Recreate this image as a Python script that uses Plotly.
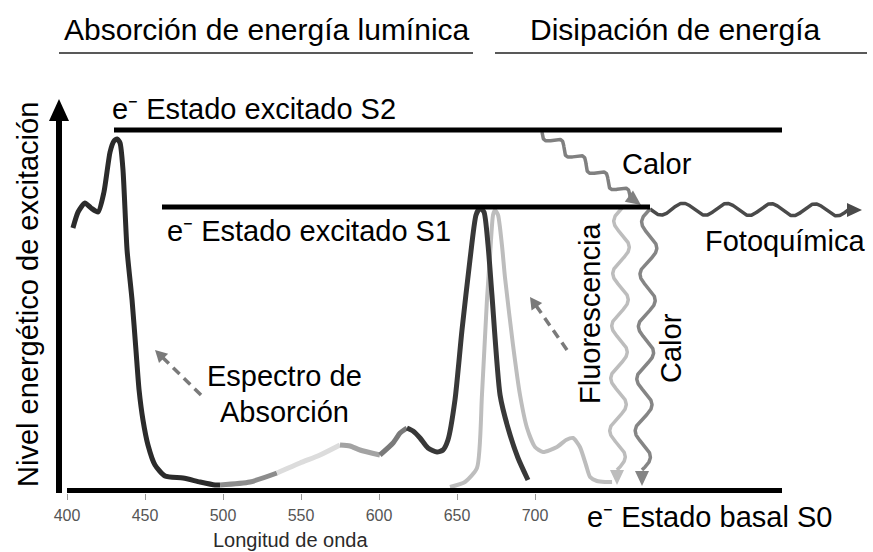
import numpy as np
import plotly.graph_objects as go

# -----------------------------
# Frame (pixel geometry of the drawing)
# -----------------------------
W, H = 873, 552
BASE = 493          # pixel row of the wavelength axis
X400 = 67           # pixel column of 400 nm
PX_PER_NM = 1.56

FONT = "Arial, Liberation Sans, sans-serif"
TXT = 29


def X(px):
    return 400 + (np.asarray(px, dtype=float) - X400) / PX_PER_NM


def Y(py):
    return BASE - np.asarray(py, dtype=float)


# -----------------------------
# Data
# -----------------------------
# absorption spectrum: wavelength (nm) and height above baseline (px units)
wl_abs = [403.8, 407.1, 411.5, 415.4, 419.9, 423.7, 427.6, 430.1, 432.1, 434.0,
          435.9, 438.5, 441.7, 444.2, 446.2, 448.7, 451.9, 456.4, 462.8, 474.4,
          485.3, 494.9, 498.1, 517.3, 534.6, 549.4, 562.2, 575.0, 581.4, 587.8,
          600.6, 609.0, 613.5, 617.9, 621.8, 626.3, 631.4, 637.2, 641.0, 644.2,
          648.7, 653.2, 658.3, 662.2, 664.7, 667.3, 669.9, 672.4, 677.6, 682.7,
          689.1, 695.5]
abs_h = [265, 281, 290, 285, 281, 301, 341, 352, 354, 350,
         323, 243, 193, 143, 103, 73, 48, 28, 17, 15,
         11, 8, 8, 11, 20, 30, 38, 48, 47, 43,
         38, 50, 60, 65, 62, 55, 45, 41, 43, 53,
         93, 163, 233, 278, 285, 281, 248, 198, 98, 65,
         35, 13]

# colour bands of the absorption trace
seg_edges = [403.8, 498.1, 534.6, 575.0, 600.6, 617.9, 695.5]
seg_colors = ["#2b2b2b", "#8c8c8c", "#dcdcdc", "#a3a3a3", "#7a7a7a", "#383838"]

# fluorescence emission spectrum
wl_em = [645.5, 655.1, 662.8, 666.0, 669.2, 671.2, 673.1, 674.4, 676.3, 678.8,
         680.8, 685.9, 690.4, 694.9, 700.0, 705.1, 714.1, 719.9, 724.4, 728.8,
         732.7, 735.3, 739.7, 744.9, 749.4]
em_h = [6, 11, 25, 98, 193, 238, 278, 283, 278, 248,
        215, 148, 98, 65, 46, 41, 46, 53, 55, 46,
        28, 16, 12, 11, 11]

tick_vals = [400, 450, 500, 550, 600, 650, 700]
tick_text = ["400", "450", "500", "550", "600", "650", "700"]


# -----------------------------
# Helpers for arrows
# -----------------------------
def head_path(tip, frm, length, half):
    tx, ty = tip
    fx, fy = frm
    d = np.hypot(tx - fx, ty - fy)
    ux, uy = (tx - fx) / d, (ty - fy) / d
    bx, by = tx - ux * length, ty - uy * length
    nx, ny = -uy * half, ux * half
    pts = [(tx, ty), (bx + nx, by + ny), (bx - nx, by - ny)]
    return "M " + " L ".join(f"{X(a):.3f},{Y(b):.3f}" for a, b in pts) + " Z"


def wave(p0, p1, amp, period, phase=0.0):
    x0, y0 = p0
    x1, y1 = p1
    L = np.hypot(x1 - x0, y1 - y0)
    n = max(round(2 * L / period) / 2, 0.5)
    period = L / n
    t = np.linspace(0, L, int(L * 2) + 2)
    ux, uy = (x1 - x0) / L, (y1 - y0) / L
    nx, ny = -uy, ux
    s = amp * np.sin(2 * np.pi * t / period + phase)
    return X(x0 + ux * t + nx * s), Y(y0 + uy * t + ny * s)


fig = go.Figure()
shapes = []

# emission spectrum (light grey)
fig.add_trace(go.Scatter(
    x=wl_em, y=em_h, mode="lines",
    line=dict(color="#bdbdbd", width=4, shape="spline", smoothing=0.6),
    hoverinfo="skip", showlegend=False
))

# absorption spectrum in colour bands
for lo, hi, col in zip(seg_edges[:-1], seg_edges[1:], seg_colors):
    idx = [i for i, w in enumerate(wl_abs) if lo <= w <= hi]
    fig.add_trace(go.Scatter(
        x=[wl_abs[i] for i in idx], y=[abs_h[i] for i in idx], mode="lines",
        line=dict(color=col, width=5, shape="spline", smoothing=0.6),
        hoverinfo="skip", showlegend=False
    ))

# wavy arrows: (start, end of wave, tip, colour, amp, period, width)
waves = [
    ((542, 132), (630, 197), (641, 205), "#808080", 5, 26, 3.5),   # Calor (S2 -> S1)
    ((650, 209), (848, 210), (862, 210), "#4a4a4a", 6, 43, 3.5),   # Fotoquímica
    ((622, 208), (617, 470), (617, 485), "#bdbdbd", 8, 52, 3.5),   # Fluorescencia
    ((650, 209), (642, 470), (642, 486), "#858585", 8, 52, 3.5),   # Calor (S1 -> S0)
]
for p0, p1, tip, col, amp, per, lw in waves:
    wx, wy = wave(p0, p1, amp, per)
    fig.add_trace(go.Scatter(
        x=wx, y=wy, mode="lines",
        line=dict(color=col, width=lw), hoverinfo="skip", showlegend=False
    ))
    shapes.append(dict(type="path", path=head_path(tip, p1, 15, 7),
                       xref="x", yref="y", fillcolor=col, line=dict(width=0)))

# dashed arrows pointing at the spectra
for tail, tip in [((201, 395), (155, 350)), ((567, 350), (530, 297))]:
    d = np.hypot(tip[0] - tail[0], tip[1] - tail[1])
    ux, uy = (tip[0] - tail[0]) / d, (tip[1] - tail[1]) / d
    fig.add_trace(go.Scatter(
        x=X([tail[0], tip[0] - ux * 9]), y=Y([tail[1], tip[1] - uy * 9]),
        mode="lines", line=dict(color="#7a7a7a", width=3.5, dash="9px,6px"),
        hoverinfo="skip", showlegend=False
    ))
    shapes.append(dict(type="path", path=head_path(tip, tail, 12, 6.5),
                       xref="x", yref="y", fillcolor="#7a7a7a", line=dict(width=0)))

# energy levels
levels = [(114, 782, 130), (162, 650, 207), (67, 782, 490.5)]
for xa, xb, yy in levels:
    shapes.append(dict(type="line", xref="x", yref="y",
                       x0=X(xa), x1=X(xb), y0=Y(yy), y1=Y(yy),
                       line=dict(color="#000000", width=5)))

# vertical energy arrow
shapes.append(dict(type="line", xref="x", yref="y", x0=X(59), x1=X(59),
                   y0=Y(493), y1=Y(118), line=dict(color="#000000", width=6)))
shapes.append(dict(type="path", path=head_path((59, 99), (59, 200), 22, 10),
                   xref="x", yref="y", fillcolor="#000000", line=dict(width=0)))

# header underlines
for xa, xb in [(59, 473), (495, 867)]:
    shapes.append(dict(type="line", xref="x", yref="y",
                       x0=X(xa), x1=X(xb), y0=Y(53), y1=Y(53),
                       line=dict(color="#222222", width=1.5)))

# -----------------------------
# Text (placed in paper units so labels below the axis stay visible)
# -----------------------------
E = "e\u207b "
labels = [
    ("Absorción de energía lumínica", 62, 30, "left", 0, 30),
    ("Disipación de energía", 528, 30, "left", 0, 30),
    (E + "Estado excitado S2", 110, 109, "left", 0, TXT),
    (E + "Estado excitado S1", 165, 231, "left", 0, TXT),
    ("Calor", 620, 164, "left", 0, TXT),
    ("Fotoquímica", 703, 241, "left", 0, TXT),
    ("Espectro de", 284, 376, "center", 0, TXT),
    ("Absorción", 284, 412, "center", 0, TXT),
    ("Fluorescencia", 590, 314, "center", -90, TXT),
    ("Calor", 671, 348, "center", -90, TXT),
    (E + "Estado basal S0", 585, 517, "left", 0, TXT),
    ("Nivel energético de excitación", 28, 295, "center", -90, TXT),
    ("Longitud de onda", 290, 540, "center", 0, 20),
]
annotations = []
for text, px, py, anchor, ang, size in labels:
    annotations.append(dict(
        text=text, x=px / W, y=(BASE - py) / BASE, xref="paper", yref="paper",
        xanchor=anchor, yanchor="middle", textangle=ang, showarrow=False,
        font=dict(family=FONT, size=size,
                  color="#2a2a2a" if size < 25 else "#000000")
    ))

fig.update_layout(
    width=W, height=H,
    margin=dict(l=0, r=0, t=0, b=H - BASE, pad=0),
    plot_bgcolor="white", paper_bgcolor="white",
    showlegend=False,
    xaxis=dict(
        range=[float(X(0)), float(X(W))],
        tickvals=tick_vals, ticktext=tick_text,
        ticks="outside", ticklen=6, tickwidth=1, tickcolor="#9a9a9a",
        tickfont=dict(family=FONT, size=16, color="#555555"),
        ticklabelstandoff=2,
        showline=False, showgrid=False, zeroline=False, fixedrange=True
    ),
    yaxis=dict(range=[0, BASE], visible=False, fixedrange=True),
    shapes=shapes,
    annotations=annotations,
)

# page body has a default 8px margin; drop it so the figure fills the window
fig.write_html("out.html", config={"displayModeBar": False},
               post_script="document.body.style.margin = '0px';")
